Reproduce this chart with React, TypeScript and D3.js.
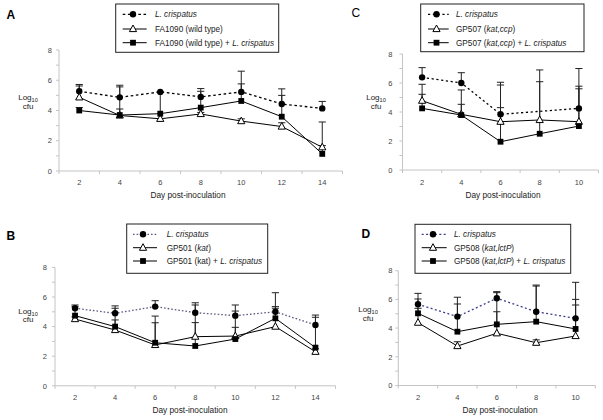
import * as d3 from 'd3'

// days on the x axis
const daysLong = [2, 4, 6, 8, 10, 12, 14]
const daysShort = [2, 4, 6, 8, 10]
const yMinor = [0, 1, 2, 3, 4, 5, 6, 7, 8]
const yLabels = [0, 2, 4, 6, 8]

// panel A
const crispA = [5.27, 4.87, 5.23, 4.9, 5.23, 4.43, 4.14]
const crispAErr = [0.45, 0.8, 0, 0.55, 1.37, 1.0, 0.46]
const wtA = [4.87, 3.67, 3.45, 3.77, 3.3, 2.94, 1.57]
const wtAErr = [0.75, 0.43, 0, 0.1, 0.15, 0.25, 1.67]
const wtCrispA = [4.0, 3.7, 3.79, 4.19, 4.63, 3.59, 1.13]
const wtCrispAErr = [0.2, 1.86, 1.45, 1.08, 1.13, 1.41, 0.55]

// panel B
const crispB = [5.24, 4.9, 5.35, 4.94, 4.74, 5.0, 4.11]
const crispBErr = [0.22, 0.5, 0.4, 0.52, 0.72, 1.29, 0.67]
const katB = [4.51, 3.77, 2.76, 3.32, 3.36, 4.0, 2.3]
const katBErr = [0.15, 0.68, 1.5, 0.95, 0.59, 1.24, 0.2]
const katCrispB = [4.74, 4.0, 2.91, 2.69, 3.16, 4.56, 2.58]
const katCrispBErr = [0.6, 1.24, 1.8, 2.92, 1.89, 0.79, 2.05]

// panel C (no L. crispatus point on day 8)
const crispC = [6.39, 6.0, 3.84, null, 4.25]
const crispCErr = [0.67, 0.71, 0.46, null, 2.75]
const ccpC = [4.78, 3.84, 3.33, 3.45, 3.33]
const ccpCErr = [1.13, 1.68, 2.53, 3.45, 2.45]
const ccpCrispC = [4.25, 3.79, 1.95, 2.5, 3.03]
const ccpCrispCErr = [0.97, 0.74, 4.1, 3.59, 2.57]

// panel D
const crispD = [5.66, 4.8, 6.08, 5.14, 4.68]
const crispDErr = [0.76, 1.35, 0.46, 1.86, 2.51]
const lctD = [4.38, 2.75, 3.64, 2.98, 3.45]
const lctDErr = [1.0, 0.3, 1.5, 0.2, 2.16]
const lctCrispD = [5.03, 3.75, 4.26, 4.45, 3.94]
const lctCrispDErr = [1.0, 1.93, 2.21, 2.48, 2.06]

const FONT = '"Liberation Sans", Arial, sans-serif'

type Seg = { t: string; i?: boolean }
type Series = {
  values: (number | null)[]
  err: (number | null)[]
  marker: 'circle' | 'triangle' | 'square'
  dash?: string
  color?: string
  label: Seg[]
}
type PanelCfg = {
  letter: string
  bold: boolean
  letterPos: [number, number]
  days: number[]
  frame: { x0: number; x1: number; y0: number; y8: number }
  yLabelOff: number
  logPos: [number, number, number]
  tickY: number
  titlePos: [number, number]
  legend: { x: number; y: number; w: number; h: number; rows: number[]; l0: number; l1: number; mx: number; tx: number }
  series: Series[]
}

const crispLabel: Seg[] = [{ t: 'L. crispatus', i: true }]

const panels: PanelCfg[] = [
  {
    letter: 'A', bold: true, letterPos: [6.5, 19], days: daysLong,
    frame: { x0: 59, x1: 342.5, y0: 171, y8: 50 }, yLabelOff: 7,
    logPos: [28, 100, 108.5], tickY: 184.5, titlePos: [188, 198],
    legend: { x: 115.7, y: 4, w: 163, h: 48.3, rows: [14.3, 29, 42.7], l0: 122.7, l1: 146.7, mx: 133, tx: 155 },
    series: [
      { values: crispA, err: crispAErr, marker: 'circle', dash: '2.6,2.6', label: crispLabel },
      { values: wtA, err: wtAErr, marker: 'triangle', label: [{ t: 'FA1090 (wild type)' }] },
      { values: wtCrispA, err: wtCrispAErr, marker: 'square', label: [{ t: 'FA1090 (wild type) + ' }, { t: 'L. crispatus', i: true }] },
    ],
  },
  {
    letter: 'B', bold: true, letterPos: [6.5, 239.5], days: daysLong,
    frame: { x0: 55, x1: 335.5, y0: 385.8, y8: 267.4 }, yLabelOff: 8,
    logPos: [28, 314, 322], tickY: 400, titlePos: [190, 413],
    legend: { x: 126.7, y: 224, w: 141, h: 49.3, rows: [234.3, 247.7, 261], l0: 133, l1: 157, mx: 143, tx: 166.7 },
    series: [
      { values: crispB, err: crispBErr, marker: 'circle', dash: '1.6,2', color: '#5a5a80', label: crispLabel },
      { values: katB, err: katBErr, marker: 'triangle', label: [{ t: 'GP501 (' }, { t: 'kat', i: true }, { t: ')' }] },
      { values: katCrispB, err: katCrispBErr, marker: 'square', label: [{ t: 'GP501 (kat) + ' }, { t: 'L. crispatus', i: true }] },
    ],
  },
  {
    letter: 'C', bold: false, letterPos: [351.5, 16.7], days: daysShort,
    frame: { x0: 402.5, x1: 598.5, y0: 170, y8: 54 }, yLabelOff: 10,
    logPos: [376, 100, 108.5], tickY: 184.5, titlePos: [503, 198],
    legend: { x: 420.7, y: 4, w: 163.3, h: 47.7, rows: [14.3, 29, 42.7], l0: 428, l1: 448.7, mx: 436.5, tx: 456 },
    series: [
      { values: crispC, err: crispCErr, marker: 'circle', dash: '2.2,2.6', label: crispLabel },
      { values: ccpC, err: ccpCErr, marker: 'triangle', label: [{ t: 'GP507 (' }, { t: 'kat,ccp', i: true }, { t: ')' }] },
      { values: ccpCrispC, err: ccpCrispCErr, marker: 'square', label: [{ t: 'GP507 (' }, { t: 'kat,ccp', i: true }, { t: ') + ' }, { t: 'L. crispatus', i: true }] },
    ],
  },
  {
    letter: 'D', bold: true, letterPos: [361.5, 237.5], days: daysShort,
    frame: { x0: 398.3, x1: 595.3, y0: 385.5, y8: 270.7 }, yLabelOff: 6,
    logPos: [368, 312, 320.5], tickY: 400, titlePos: [500, 413],
    legend: { x: 415, y: 224.3, w: 155.7, h: 49, rows: [234.3, 247.7, 261], l0: 421.7, l1: 446.7, mx: 433, tx: 454 },
    series: [
      { values: crispD, err: crispDErr, marker: 'circle', dash: '2,2.4', color: '#3c3c8c', label: crispLabel },
      { values: lctD, err: lctDErr, marker: 'triangle', label: [{ t: 'GP508 (' }, { t: 'kat,lctP', i: true }, { t: ')' }] },
      { values: lctCrispD, err: lctCrispDErr, marker: 'square', label: [{ t: 'GP508 (' }, { t: 'kat,lctP', i: true }, { t: ') + ' }, { t: 'L. crispatus', i: true }] },
    ],
  },
]

function Marker({ kind, x, y }: { kind: string; x: number; y: number }) {
  if (kind === 'circle') return <circle cx={x} cy={y} r={3.2} fill="#000" />
  if (kind === 'square') return <rect x={x - 2.9} y={y - 2.9} width={5.8} height={5.8} fill="#000" />
  return (
    <path
      d={`M${x},${y - 4}L${x + 3.6},${y + 2.6}L${x - 3.6},${y + 2.6}Z`}
      fill="#fff"
      stroke="#000"
      strokeWidth={1}
    />
  )
}

function Panel({ cfg }: { cfg: PanelCfg }) {
  const { frame, legend } = cfg
  const x = d3.scaleBand<string>().domain(cfg.days.map(String)).range([frame.x0, frame.x1]).padding(0)
  const y = d3.scaleLinear().domain([0, 8]).range([frame.y0, frame.y8])
  const cx = (d: number) => (x(String(d)) ?? 0) + x.bandwidth() / 2
  const boundaries = [...cfg.days.map((d) => x(String(d)) ?? 0), frame.x1]
  const line = d3
    .line<[number, number]>()
    .x((p) => cx(p[0]))
    .y((p) => y(p[1]))

  return (
    <g fontFamily={FONT}>
      <text x={cfg.letterPos[0]} y={cfg.letterPos[1]} fontSize={12} fontWeight={cfg.bold ? 'bold' : 'normal'}>
        {cfg.letter}
      </text>

      {/* y axis */}
      <line x1={frame.x0} x2={frame.x0} y1={y(0)} y2={y(8)} stroke="#c4c4c4" />
      {yMinor.map((v) => (
        <line key={v} x1={frame.x0 - 3} x2={frame.x0} y1={y(v)} y2={y(v)} stroke="#c4c4c4" />
      ))}
      {yLabels.map((v) => (
        <text key={v} x={frame.x0 - cfg.yLabelOff} y={y(v) + 2.7} fontSize={7.5} fill="#444" textAnchor="end">
          {v}
        </text>
      ))}
      <text x={cfg.logPos[0]} y={cfg.logPos[1]} fontSize={8} textAnchor="middle" fill="#222">
        Log<tspan fontSize={5.6} dy={2}>10</tspan>
      </text>
      <text x={cfg.logPos[0]} y={cfg.logPos[2]} fontSize={8} textAnchor="middle" fill="#222">
        cfu
      </text>

      {/* x axis */}
      <line x1={frame.x0} x2={frame.x1} y1={y(0)} y2={y(0)} stroke="#c4c4c4" />
      {boundaries.map((b, i) => (
        <line key={i} x1={b} x2={b} y1={y(0)} y2={y(0) + 3} stroke="#c4c4c4" />
      ))}
      {cfg.days.map((d) => (
        <text key={d} x={cx(d)} y={cfg.tickY} fontSize={7.5} fill="#444" textAnchor="middle">
          {d}
        </text>
      ))}
      <text x={cfg.titlePos[0]} y={cfg.titlePos[1]} fontSize={8.3} fill="#222" textAnchor="middle">
        Day post-inoculation
      </text>

      {/* error bars (plus direction) */}
      {cfg.series.map((s, si) =>
        s.values.map((v, i) => {
          const e = s.err[i]
          if (v == null || e == null || e <= 0) return null
          const px = cx(cfg.days[i])
          return (
            <g key={`e${si}-${i}`} stroke="#222" strokeWidth={1}>
              <line x1={px} x2={px} y1={y(v)} y2={y(v + e)} />
              <line x1={px - 3.6} x2={px + 3.6} y1={y(v + e)} y2={y(v + e)} />
            </g>
          )
        })
      )}

      {/* lines */}
      {cfg.series.map((s, si) => {
        const pts = cfg.days
          .map((d, i) => [d, s.values[i]] as [number, number | null])
          .filter((p): p is [number, number] => p[1] != null)
        return (
          <path
            key={`l${si}`}
            d={line(pts) ?? ''}
            fill="none"
            stroke={s.color ?? '#000'}
            strokeWidth={s.dash ? 1.3 : 1}
            strokeDasharray={s.dash}
          />
        )
      })}

      {/* markers */}
      {cfg.series.map((s, si) =>
        s.values.map((v, i) =>
          v == null ? null : <Marker key={`m${si}-${i}`} kind={s.marker} x={cx(cfg.days[i])} y={y(v)} />
        )
      )}

      {/* legend */}
      <rect x={legend.x} y={legend.y} width={legend.w} height={legend.h} fill="#fff" stroke="#222" strokeWidth={1} />
      {cfg.series.map((s, si) => {
        const ry = legend.rows[si]
        return (
          <g key={`lg${si}`}>
            <line
              x1={legend.l0}
              x2={legend.l1}
              y1={ry}
              y2={ry}
              stroke={s.color ?? '#000'}
              strokeWidth={s.dash ? 1.3 : 1}
              strokeDasharray={s.dash}
            />
            <Marker kind={s.marker} x={legend.mx} y={ry} />
            <text x={legend.tx} y={ry + 3} fontSize={8.2} fill="#222">
              {s.label.map((seg, k) => (
                <tspan key={k} fontStyle={seg.i ? 'italic' : 'normal'}>
                  {seg.t}
                </tspan>
              ))}
            </text>
          </g>
        )
      })}
    </g>
  )
}

export default function App() {
  return (
    <svg
      width={603}
      height={420}
      style={{ position: 'absolute', left: 0, top: 0, background: '#fff' }}
    >
      <rect width={603} height={420} fill="#fff" />
      {panels.map((p) => (
        <Panel key={p.letter} cfg={p} />
      ))}
    </svg>
  )
}
